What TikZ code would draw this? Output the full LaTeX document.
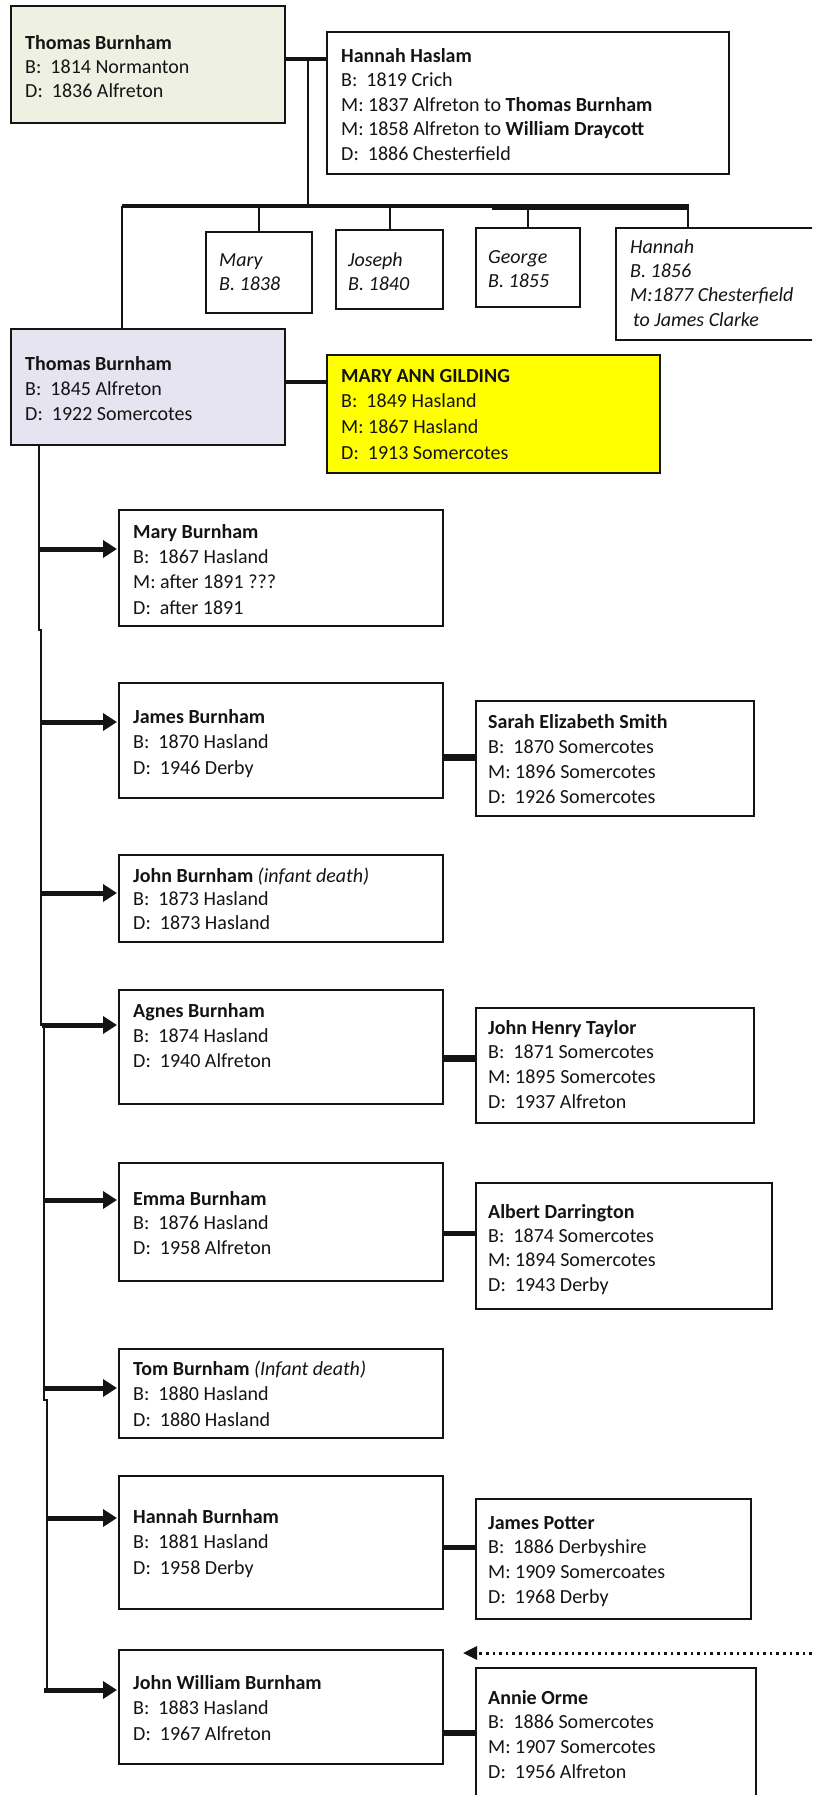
\documentclass[tikz,border=0pt]{standalone}
\usepackage{fontspec}
\setmainfont{Carlito}
\usetikzlibrary{arrows.meta,fit,calc}
\definecolor{greenbox}{HTML}{EEF1E2}
\definecolor{lavbox}{HTML}{E6E4F0}
\definecolor{yelbox}{HTML}{FFFF00}
\definecolor{ink}{HTML}{141414}
\newcommand\ptxt[5]{\node[txt, font=\fontsize{20}{#4}\selectfont] (#1) at (#2,{#3-0.7*#4}) {\strut #5};}
\tikzset{
  box/.style={draw=ink, line width=2pt, rectangle, inner sep=0pt},
  txt/.style={inner sep=0pt, align=left, anchor=north west, text=ink},
  marriage/.style={draw=ink, line width=#1},
  marriage/.default=5pt,
  drop/.style={draw=ink, line width=2pt},
  bar/.style={draw=ink, line width=4.5pt},
  childarrow/.style={draw=ink, line width=5pt, shorten >=1pt, -{Triangle[length=14pt,width=17pt]}},
  dotarrow/.style={draw=ink, line width=3pt, dash pattern=on 2.6pt off 4pt, -{Triangle[length=14pt,width=13pt]}}
}
\begin{document}
\begin{tikzpicture}[x=1pt,y=-1pt]
\clip (0,0) rectangle (812,1795);
\useasboundingbox (0,0) rectangle (812,1795);
\fill[white] (0,0) rectangle (812,1795);

% boxes
\node[box, fill=greenbox, fit={(11,6) (285,123)}] (tb1) {};
\node[box, fit={(327,32) (729,174)}] (hh) {};
\node[box, fit={(206,232) (312,313)}] (md) {};
\node[box, fit={(336,230) (443,309)}] (jo) {};
\node[box, fit={(476,228) (580,307)}] (ge) {};
\node[box, fit={(616,228) (840,340)}] (hd) {};
\node[box, fill=lavbox, fit={(11,329) (285,445)}] (tb2) {};
\node[box, fill=yelbox, fit={(327,355) (660,473)}] (mag) {};
\node[box, fit={(119,510) (443,626)}] (mb) {};
\node[box, fit={(119,683) (443,798)}] (jb) {};
\node[box, fit={(476,701) (754,816)}] (ses) {};
\node[box, fit={(119,855) (443,942)}] (jnb) {};
\node[box, fit={(119,990) (443,1104)}] (ab) {};
\node[box, fit={(476,1008) (754,1123)}] (jht) {};
\node[box, fit={(119,1163) (443,1281)}] (eb) {};
\node[box, fit={(476,1183) (772,1309)}] (ad) {};
\node[box, fit={(119,1349) (443,1438)}] (tom) {};
\node[box, fit={(119,1476) (443,1609)}] (hb) {};
\node[box, fit={(476,1499) (751,1619)}] (jp) {};
\node[box, fit={(119,1650) (443,1764)}] (jwb) {};
\node[box, fit={(476,1668) (756,1830)}] (ao) {};

% texts
\ptxt{tb1t}{25}{49}{24}{\textbf{Thomas Burnham}\\B:\ \ 1814 Normanton\\D:\ \ 1836 Alfreton}
\ptxt{hht}{341}{62}{24.5}{\textbf{Hannah Haslam}\\B:\ \ 1819 Crich\\M: 1837 Alfreton to \textbf{Thomas Burnham}\\M: 1858 Alfreton to \textbf{William Draycott}\\D:\ \ 1886 Chesterfield}
\ptxt{mdt}{219}{266}{24}{\textit{Mary}\\\textit{B. 1838}}
\ptxt{jot}{348}{266}{24}{\textit{Joseph}\\\textit{B. 1840}}
\ptxt{get}{488}{263}{24}{\textit{George}\\\textit{B. 1855}}
\ptxt{hdt}{630}{253}{24.3}{\textit{Hannah}\\\textit{B. 1856}\\\textit{M:1877 Chesterfield}\\\hspace*{3pt}\textit{to James Clarke}}
\ptxt{tb2t}{25}{370}{25}{\textbf{Thomas Burnham}\\B:\ \ 1845 Alfreton\\D:\ \ 1922 Somercotes}
\ptxt{magt}{341}{382}{25.7}{\textbf{MARY ANN GILDING}\\B:\ \ 1849 Hasland\\M: 1867 Hasland\\D:\ \ 1913 Somercotes}
\ptxt{mbt}{133}{538}{25.3}{\textbf{Mary Burnham}\\B:\ \ 1867 Hasland\\M: after 1891 ???\\D:\ \ after 1891}
\ptxt{jbt}{133}{723}{25.5}{\textbf{James Burnham}\\B:\ \ 1870 Hasland\\D:\ \ 1946 Derby}
\ptxt{sest}{488}{728}{25}{\textbf{Sarah Elizabeth Smith}\\B:\ \ 1870 Somercotes\\M: 1896 Somercotes\\D:\ \ 1926 Somercotes}
\ptxt{jnbt}{133}{882}{23.5}{\textbf{John Burnham} \textit{(infant death)}\\B:\ \ 1873 Hasland\\D:\ \ 1873 Hasland}
\ptxt{abt}{133}{1017}{25}{\textbf{Agnes Burnham}\\B:\ \ 1874 Hasland\\D:\ \ 1940 Alfreton}
\ptxt{jhtt}{488}{1034}{24.7}{\textbf{John Henry Taylor}\\B:\ \ 1871 Somercotes\\M: 1895 Somercotes\\D:\ \ 1937 Alfreton}
\ptxt{ebt}{133}{1205}{24.5}{\textbf{Emma Burnham}\\B:\ \ 1876 Hasland\\D:\ \ 1958 Alfreton}
\ptxt{adt}{488}{1218}{24.3}{\textbf{Albert Darrington}\\B:\ \ 1874 Somercotes\\M: 1894 Somercotes\\D:\ \ 1943 Derby}
\ptxt{tomt}{133}{1375}{25.5}{\textbf{Tom Burnham} \textit{(Infant death)}\\B:\ \ 1880 Hasland\\D:\ \ 1880 Hasland}
\ptxt{hbt}{133}{1523}{25.5}{\textbf{Hannah Burnham}\\B:\ \ 1881 Hasland\\D:\ \ 1958 Derby}
\ptxt{jpt}{488}{1529}{24.7}{\textbf{James Potter}\\B:\ \ 1886 Derbyshire\\M: 1909 Somercoates\\D:\ \ 1968 Derby}
\ptxt{jwbt}{133}{1689}{25.5}{\textbf{John William Burnham}\\B:\ \ 1883 Hasland\\D:\ \ 1967 Alfreton}
\ptxt{aot}{488}{1704}{24.7}{\textbf{Annie Orme}\\B:\ \ 1886 Somercotes\\M: 1907 Somercotes\\D:\ \ 1956 Alfreton}

% first generation connectors
\draw[marriage=4.5pt] (tb1.east |- 0,59) -- (hh.west |- 0,59);
\coordinate (m1) at (308,57);
\coordinate (barL) at (122,206);
\coordinate (barR) at (689,206);
\draw[drop] (m1) -- (m1 |- barL);
\draw[bar] (barL) -- (barR);
\draw[draw=ink, line width=6.5pt] (492,207) -- (barR |- 0,207);
\draw[drop] (barL) -- (barL |- tb2.north);
\draw[drop] (barL -| md.north) -- (md.north);
\draw[drop] (barL -| jo.north) -- (jo.north);
\draw[drop] (barL -| ge.north) -- (ge.north);
\coordinate (hdtop) at (688,228);
\draw[drop] (hdtop |- barL) -- (hdtop);

% second generation
\draw[marriage=4.5pt] (tb2.east |- 0,382) -- (mag.west |- 0,382);
\coordinate (tk) at (39,445);
\draw[drop] (tk) -- (39,630) -- (41,630) -- (41,1025) -- (44,1025) -- (44,1400) -- (47,1400) -- (47,1692);
\foreach \c/\x/\y in {mb/39/549, jb/41/722, jnb/41/893, ab/42/1025, eb/44/1200, tom/44/1388, hb/47/1518, jwb/44/1690}{
  \coordinate (a\c) at (\x,\y);
  \draw[childarrow] (a\c) -- (a\c -| \c.west);
}

% spouses of children
\draw[marriage=7pt] (jb.east |- 0,757) -- (ses.west |- 0,757);
\draw[marriage=7pt] (ab.east |- 0,1058) -- (jht.west |- 0,1058);
\draw[marriage] (eb.east |- 0,1233) -- (ad.west |- 0,1233);
\draw[marriage] (hb.east |- 0,1547) -- (jp.west |- 0,1547);
\draw[marriage=6pt] (jwb.east |- 0,1733) -- (ao.west |- 0,1733);

% dotted arrow
\coordinate (dotR) at (812,1653);
\coordinate (dotL) at (463,1653);
\draw[dotarrow] (dotR) -- (dotL);
\end{tikzpicture}
\end{document}
